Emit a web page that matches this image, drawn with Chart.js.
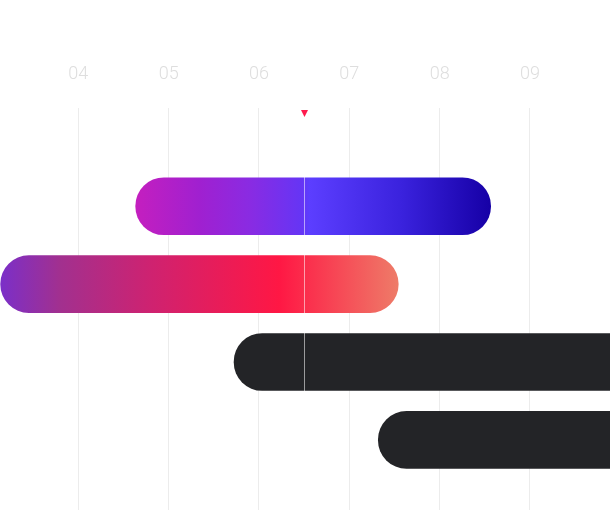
<!DOCTYPE html>
<html>
<head>
<meta charset="utf-8">
<script src="https://cdn.jsdelivr.net/npm/chart.js@4.4.1/dist/chart.umd.min.js"></script>
<style>
  html, body { margin: 0; padding: 0; background: #fff; overflow: hidden; }
  .wrap { position: relative; width: 610px; height: 510px; }
</style>
</head>
<body>
<div class="wrap"><canvas id="timeline"></canvas></div>
<script>
// Columns along the top
const tickValues = [4, 5, 6, 7, 8, 9];
const tickLabels = ['04', '05', '06', '07', '08', '09'];

// Rows, top to bottom, with start / end of each bar
const rows = [0, 1, 2, 3];
const startValues = [4.635, 3.14, 5.724, 7.321];
const endValues = [8.565, 7.542, 10.6, 10.6];

// "now" marker
const nowValue = 6.5;

// visible window
const xMin = 3.133, xMax = 9.886;
const yMin = -1.26, yMax = 3.9;

// gradient stops along each bar (fraction of bar length, colour)
const rowStops = [
    [[0, '#c41fbf'], [0.18, '#a020d0'], [0.32, '#8a2be2'], [0.47, '#6535f5'], [0.49, '#5c3eff'], [0.75, '#3a22dd'], [1, '#1600a6']],
    [[0, '#7b2fc8'], [0.15, '#a2308f'], [0.38, '#cf2270'], [0.70, '#ff1744'], [1, '#ee7b68']],
    [[0, '#232427'], [1, '#232427']],
    [[0, '#232427'], [1, '#232427']]
];

function barFill(context) {
    const chart = context.chart;
    const i = context.dataIndex;
    const stops = rowStops[i];
    if (!chart.chartArea || !chart.scales.x) return stops[0][1];
    const xs = chart.scales.x;
    const x0 = xs.getPixelForValue(startValues[i]);
    const x1 = xs.getPixelForValue(endValues[i]);
    const g = chart.ctx.createLinearGradient(x0, 0, x1, 0);
    stops.forEach(s => g.addColorStop(s[0], s[1]));
    return g;
}

// thin line + small triangle for "now"
const nowMarker = {
    id: 'nowMarker',
    afterDatasetsDraw(chart) {
        const { ctx, chartArea, scales } = chart;
        const px = Math.round(scales.x.getPixelForValue(nowValue)) + 0.5;
        ctx.save();
        ctx.strokeStyle = 'rgba(255,255,255,0.55)';
        ctx.lineWidth = 1;
        ctx.beginPath();
        ctx.moveTo(px, chartArea.top);
        ctx.lineTo(px, chartArea.bottom);
        ctx.stroke();

        ctx.fillStyle = '#ff1a4d';
        ctx.beginPath();
        ctx.moveTo(px - 3.5, chartArea.top + 2);
        ctx.lineTo(px + 3.5, chartArea.top + 2);
        ctx.lineTo(px, chartArea.top + 9);
        ctx.closePath();
        ctx.fill();
        ctx.restore();
    }
};

const canvas = document.getElementById('timeline');

new Chart(canvas, {
    type: 'bar',
    data: {
        datasets: [{
            data: rows.map((r, i) => ({ x: [startValues[i], endValues[i]], y: r })),
            backgroundColor: barFill,
            borderSkipped: false,
            borderRadius: 30,
            barThickness: 57
        }]
    },
    options: {
        indexAxis: 'y',
        responsive: true,
        maintainAspectRatio: false,
        animation: false,
        layout: { padding: { top: 40.5, left: 0, right: 0, bottom: 0 } },
        plugins: {
            legend: { display: false },
            tooltip: { enabled: false }
        },
        scales: {
            x: {
                type: 'linear',
                position: 'top',
                min: xMin,
                max: xMax,
                afterBuildTicks: function (scale) {
                    scale.ticks = tickValues.map(v => ({ value: v }));
                },
                grid: { color: '#ececec', drawTicks: false },
                border: { display: false },
                ticks: {
                    padding: 23,
                    color: '#dedede',
                    maxRotation: 0,
                    autoSkip: false,
                    font: { family: 'Roboto', size: 18, weight: 300 },
                    callback: function (value, index) {
                        return tickLabels[index];
                    }
                }
            },
            y: {
                type: 'linear',
                reverse: true,
                offset: false,
                grid: { offset: false },
                min: yMin,
                max: yMax,
                display: false
            }
        }
    },
    plugins: [nowMarker]
});
</script>
</body>
</html>
